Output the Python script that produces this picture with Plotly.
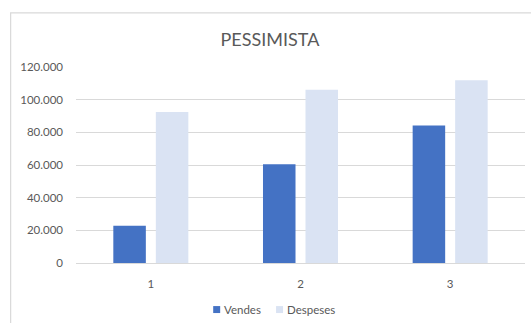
import plotly.graph_objects as go

# Scenario data: three periods, sales vs. expenses
periods = ["1", "2", "3"]
vendes = [22800, 60400, 84200]
despeses = [92500, 106000, 111900]
series_names = ["Vendes", "Despeses"]
series_colors = ["#4472C4", "#DAE3F3"]
y_ticks = [0, 20000, 40000, 60000, 80000, 100000, 120000]

W, H = 531, 323
L, R, T, B = 75.5, 5.5, 66.7, 59.7
plot_w = W - L - R
plot_h = H - T - B

FONT = "Lato"
GREY_TXT = "#595959"
GRID = "#D9D9D9"

fig = go.Figure()
for name, vals, col in zip(series_names, [vendes, despeses], series_colors):
    fig.add_trace(go.Bar(name=name, x=periods, y=vals,
                         marker=dict(color=col, line=dict(width=0))))

# outer chart frame (left and top edges visible)
fig.add_shape(
    type="rect", xref="paper", yref="paper",
    x0=(10 - L) / plot_w, x1=(W + 20 - L) / plot_w,
    y0=-(H + 20 - (H - B)) / plot_h, y1=(H - B - 12.5) / plot_h,
    line=dict(color=GRID, width=1.2), fillcolor="rgba(0,0,0,0)", layer="below",
)

# compact legend below the axis: small swatch followed by the series name
def px_x(px):
    return (px - L) / plot_w

def px_y(py):
    return (H - B - py) / plot_h

legend_y = 310
legend_items = [(213, series_names[0], series_colors[0]),
                (276, series_names[1], series_colors[1])]
for x_px, name, col in legend_items:
    fig.add_shape(type="rect", xref="paper", yref="paper",
                  x0=px_x(x_px), x1=px_x(x_px + 7),
                  y0=px_y(legend_y + 3.5), y1=px_y(legend_y - 3.5),
                  line=dict(width=0), fillcolor=col)
    fig.add_annotation(xref="paper", yref="paper", x=px_x(x_px + 9), y=px_y(legend_y),
                       xanchor="left", yanchor="middle", showarrow=False, text=name,
                       font=dict(family=FONT, size=11.5, color=GREY_TXT))

fig.update_layout(
    width=W, height=H,
    margin=dict(l=L, r=R, t=T, b=B, pad=0),
    paper_bgcolor="white", plot_bgcolor="white",
    separators=",.",
    barmode="group", bargap=0.432, bargroupgap=0.235,
    title=dict(text="PESSIMISTA", x=270 / W, xanchor="center",
               y=1 - 40 / H, yanchor="middle",
               font=dict(family=FONT, size=18, color=GREY_TXT)),
    font=dict(family=FONT, size=11.5, color=GREY_TXT),
    xaxis=dict(type="category", showgrid=False, showline=True, linecolor=GRID, linewidth=1,
               ticks="", ticklabelstandoff=10,
               tickfont=dict(family=FONT, size=11.5, color=GREY_TXT)),
    yaxis=dict(range=[0, 120000], tickvals=y_ticks, tickformat=",.0f",
               showgrid=True, gridcolor=GRID, gridwidth=1,
               zeroline=True, zerolinecolor=GRID, zerolinewidth=1,
               showline=False, ticks="", ticklabelstandoff=12,
               tickfont=dict(family=FONT, size=11.5, color=GREY_TXT)),
    showlegend=False,
)

fig.write_html("out.html")
